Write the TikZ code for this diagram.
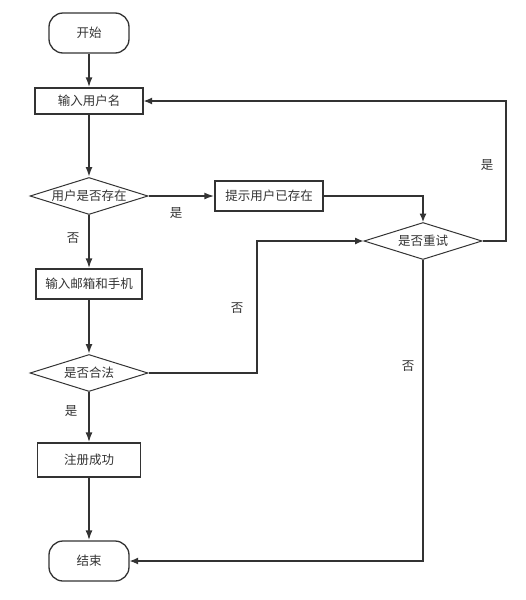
\documentclass[tikz,border=0pt]{standalone}
\usepackage{fontspec}
\setmainfont{Noto Sans CJK SC}
\usetikzlibrary{shapes.geometric,arrows.meta}
\definecolor{ink}{HTML}{333333}

\begin{document}
\begin{tikzpicture}[
x=1pt,
y=-1pt,
term/.style={
  draw=ink,
  line width=1.3pt,
  rounded corners=14pt,
  minimum width=80pt,
  minimum height=40pt,
  inner sep=0pt
  },
proc/.style={
  draw=ink,
  line width=1.3pt,
  minimum height=30pt,
  inner sep=0pt
  },
cond/.style={
  draw=ink,
  line width=1pt,
  diamond,
  aspect=3.28,
  minimum width=118pt,
  minimum height=37pt,
  inner sep=0pt
  },
main/.style={-{Latex[length=10pt,width=7pt]}, draw=ink, line width=1.8pt},
side/.style={->, draw=ink, line width=1.1pt},
lbl/.style={text=ink},
every node/.style={text=ink, font=\fontsize{12.5}{14}\selectfont},
>={Latex[length=8.5pt,width=7pt]}
]
\useasboundingbox (0,0) rectangle (526,600);

% main column
\node[term] (start) at (89,33) {开始};
\node[proc, minimum width=108pt, minimum height=26pt] (name) at (89,101) {输入用户名};
\node[cond] (exists) at (89,196) {用户是否存在};
\node[proc, minimum width=106pt] (email) at (89,284) {输入邮箱和手机};
\node[cond] (legal) at (89,373) {是否合法};
\node[proc, minimum width=103pt, minimum height=34pt] (success) at (89,460) {注册成功};
\node[term] (end) at (89,561) {结束};

% right side
\node[proc, minimum width=108pt] (prompt) at (269,196) {提示用户已存在};
\node[cond] (retry) at (423,241) {是否重试};

\coordinate (bendL) at (257,300);
\coordinate (loopR) at (506,241);

% labels
\node[lbl] (yesA) at (176,213) {是};
\node[lbl] (noA) at (73,238) {否};
\node[lbl] (noB) at (237,308) {否};
\node[lbl] (yesB) at (487,165) {是};
\node[lbl] (noC) at (408,366) {否};
\node[lbl] (yesC) at (71,411) {是};

% connectors
\draw[main] (start) -- (name);
\draw[main] (name) -- (exists);
\draw[main] (exists) -- (prompt);
\draw[main] (exists) -- (email);
\draw[main] (email) -- (legal);
\draw[main] (legal) -- (success);
\draw[main] (success) -- (end);

\draw[side] (prompt.east) -| (retry.north);
\draw[side] (legal.east) -- (legal.east -| bendL) |- (retry.west);
\draw[side] (retry.east) -- (loopR) |- (name.east);
\draw[side] (retry.south) |- (end.east);
\end{tikzpicture}
\end{document}
